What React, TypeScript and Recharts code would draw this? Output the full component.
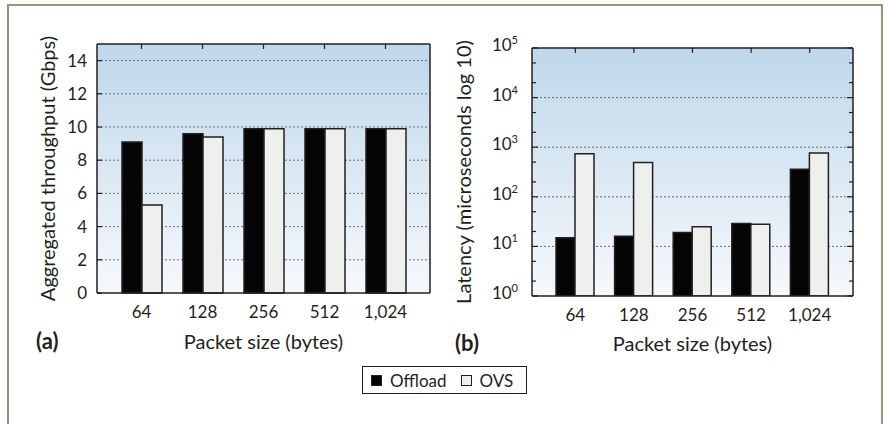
import { BarChart, Bar, XAxis, YAxis, CartesianGrid, Label } from 'recharts';

const packetSizes = ['64', '128', '256', '512', '1,024'];
const throughputOffload = [9.1, 9.6, 9.9, 9.9, 9.9];
const throughputOvs = [5.3, 9.4, 9.9, 9.9, 9.9];
const latencyOffload = [15, 16, 19, 29, 360];
const latencyOvs = [740, 490, 25, 28, 760];

const throughputTicks = [0, 2, 4, 6, 8, 10, 12, 14];
const throughputGrid = [2, 4, 6, 8, 10, 12, 14];
const latencyTicks = [1, 2, 5, 10, 20, 50, 100, 200, 500, 1000, 2000, 5000, 10000, 20000, 50000, 100000];
const latencyMajor = [1, 10, 100, 1000, 10000, 100000];
const latencyGrid = [10, 100, 1000, 10000];

const series = [
  { key: 'offload', name: 'Offload', fill: '#050505' },
  { key: 'ovs', name: 'OVS', fill: '#eef0ee' },
];

const throughputData = packetSizes.map((size, i) => ({
  size,
  offload: throughputOffload[i],
  ovs: throughputOvs[i],
}));

const latencyData = packetSizes.map((size, i) => ({
  size,
  offload: latencyOffload[i],
  ovs: latencyOvs[i],
}));

const INK = '#231f20';
const FONT = 'Lato, sans-serif';

// tick components: labels outside, tick marks drawn inward
function LinearLeftTick({ x, y, payload }: any) {
  return (
    <g>
      <line x1={x} x2={x + 5} y1={y} y2={y} stroke={INK} strokeWidth={1.2} />
      <text x={x - 10} y={y} dy={6} textAnchor="end" fontSize={17} fill={INK} fontFamily={FONT}>
        {payload.value}
      </text>
    </g>
  );
}

function RightTick({ x, y }: any) {
  return <line x1={x - 5} x2={x} y1={y} y2={y} stroke={INK} strokeWidth={1.2} />;
}

function LogRightTick({ x, y, payload }: any) {
  const len = latencyMajor.includes(payload.value) ? 6 : 4;
  return <line x1={x - len} x2={x} y1={y} y2={y} stroke={INK} strokeWidth={1.2} />;
}

function LogLeftTick({ x, y, payload }: any) {
  const major = latencyMajor.includes(payload.value);
  const exp = Math.round(Math.log10(payload.value));
  return (
    <g>
      <line x1={x} x2={x + (major ? 6 : 4)} y1={y} y2={y} stroke={INK} strokeWidth={1.2} />
      {major && (
        <text x={x - 14} y={y} dy={3} textAnchor="end" fontSize={17} fill={INK} fontFamily={FONT}>
          <tspan>10</tspan>
          <tspan dy={-7} fontSize={11}>{exp}</tspan>
        </text>
      )}
    </g>
  );
}

function TopTick({ x, y }: any) {
  return <line x1={x} x2={x} y1={y} y2={y + 5} stroke={INK} strokeWidth={1.2} />;
}

function BottomTick({ x, y, payload }: any) {
  return (
    <text x={x} y={y + 25} textAnchor="middle" fontSize={17} fill={INK} fontFamily={FONT}>
      {payload.value}
    </text>
  );
}

function XTitle({ viewBox, title, tag, tagX, dy }: any) {
  const cx = viewBox.x + viewBox.width / 2;
  return (
    <g fontFamily={FONT} fill={INK}>
      <text x={cx} y={viewBox.y + dy} textAnchor="middle" fontSize={20}>
        {title}
      </text>
      <text x={tagX} y={viewBox.y + dy} fontSize={22} fontWeight="bold">
        {tag}
      </text>
    </g>
  );
}

function YTitle({ viewBox, title, baseX }: any) {
  const cy = viewBox.y + viewBox.height / 2;
  return (
    <text
      x={baseX}
      y={cy}
      transform={`rotate(-90, ${baseX}, ${cy})`}
      textAnchor="middle"
      fontSize={20}
      fill={INK}
      fontFamily={FONT}
    >
      {title}
    </text>
  );
}

function PlotBackground({ id }: { id: string }) {
  return (
    <defs>
      <linearGradient id={id} x1="0" y1="0" x2="0" y2="1">
        <stop offset="0%" stopColor="#bed7ea" />
        <stop offset="100%" stopColor="#f6f9fc" />
      </linearGradient>
    </defs>
  );
}

function ThroughputChart() {
  return (
    <BarChart
      width={440}
      height={380}
      data={throughputData}
      margin={{ top: 43, right: 9, left: 0, bottom: 27 }}
      barGap={0}
    >
      <PlotBackground id="tpBg" />
      <CartesianGrid
        vertical={false}
        fill="url(#tpBg)"
        fillOpacity={1}
        stroke="#6f6f6f"
        strokeDasharray="2 2"
        horizontalValues={throughputGrid}
      />
      <XAxis
        dataKey="size"
        height={60}
        padding={{ left: 14, right: 14 }}
        tickLine={false}
        tickSize={0}
        tickMargin={0}
        tick={<BottomTick />}
        interval={0}
        axisLine={{ stroke: INK, strokeWidth: 1.5 }}
      >
        <Label content={(p: any) => <XTitle {...p} title="Packet size (bytes)" tag="(a)" tagX={36} dy={56} />} />
      </XAxis>
      <XAxis
        xAxisId="top"
        dataKey="size"
        orientation="top"
        height={1}
        padding={{ left: 14, right: 14 }}
        tickLine={false}
        tickSize={0}
        tickMargin={0}
        tick={<TopTick />}
        interval={0}
        axisLine={{ stroke: INK, strokeWidth: 1.5 }}
      />
      <YAxis
        width={97}
        type="number"
        domain={[0, 15]}
        ticks={throughputTicks}
        interval={0}
        tickLine={false}
        tickSize={0}
        tickMargin={0}
        tick={<LinearLeftTick />}
        axisLine={{ stroke: INK, strokeWidth: 1.5 }}
      >
        <Label content={(p: any) => <YTitle {...p} title="Aggregated throughput (Gbps)" baseX={55} />} />
      </YAxis>
      <YAxis
        yAxisId="right"
        orientation="right"
        width={1}
        type="number"
        domain={[0, 15]}
        ticks={throughputGrid}
        interval={0}
        tickLine={false}
        tickSize={0}
        tickMargin={0}
        tick={<RightTick />}
        axisLine={{ stroke: INK, strokeWidth: 1.5 }}
      />
      {series.map((s) => (
        <Bar
          key={s.key}
          dataKey={s.key}
          name={s.name}
          fill={s.fill}
          stroke={INK}
          strokeWidth={1.5}
          barSize={20}
          isAnimationActive={false}
        />
      ))}
    </BarChart>
  );
}

function LatencyChart() {
  return (
    <BarChart
      width={440}
      height={380}
      data={latencyData}
      margin={{ top: 47, right: 30, left: 0, bottom: 24 }}
      barGap={0}
    >
      <PlotBackground id="latBg" />
      <CartesianGrid
        vertical={false}
        fill="url(#latBg)"
        fillOpacity={1}
        stroke="#6f6f6f"
        strokeDasharray="2 2"
        horizontalValues={latencyGrid}
      />
      <XAxis
        dataKey="size"
        height={60}
        padding={{ left: 14, right: 14 }}
        tickLine={false}
        tickSize={0}
        tickMargin={0}
        tick={<BottomTick />}
        interval={0}
        axisLine={{ stroke: INK, strokeWidth: 1.5 }}
      >
        <Label content={(p: any) => <XTitle {...p} title="Packet size (bytes)" tag="(b)" tagX={11} dy={55} />} />
      </XAxis>
      <XAxis
        xAxisId="top"
        dataKey="size"
        orientation="top"
        height={1}
        padding={{ left: 14, right: 14 }}
        tickLine={false}
        tickSize={0}
        tickMargin={0}
        tick={<TopTick />}
        interval={0}
        axisLine={{ stroke: INK, strokeWidth: 1.5 }}
      />
      <YAxis
        width={88}
        type="number"
        scale="log"
        domain={[1, 100000]}
        allowDataOverflow
        ticks={latencyTicks}
        interval={0}
        tickLine={false}
        tickSize={0}
        tickMargin={0}
        tick={<LogLeftTick />}
        axisLine={{ stroke: INK, strokeWidth: 1.5 }}
      >
        <Label content={(p: any) => <YTitle {...p} title="Latency (microseconds log 10)" baseX={27} />} />
      </YAxis>
      <YAxis
        yAxisId="right"
        orientation="right"
        width={1}
        type="number"
        scale="log"
        domain={[1, 100000]}
        allowDataOverflow
        ticks={latencyTicks}
        interval={0}
        tickLine={false}
        tickSize={0}
        tickMargin={0}
        tick={<LogRightTick />}
        axisLine={{ stroke: INK, strokeWidth: 1.5 }}
      />
      {series.map((s) => (
        <Bar
          key={s.key}
          dataKey={s.key}
          name={s.name}
          fill={s.fill}
          stroke={INK}
          strokeWidth={1.5}
          barSize={19}
          isAnimationActive={false}
        />
      ))}
    </BarChart>
  );
}

export default function App() {
  return (
    <div
      style={{
        position: 'absolute',
        left: 0,
        top: 0,
        width: 888,
        height: 424,
        background: '#fff',
        overflow: 'hidden',
        fontFamily: FONT,
        color: INK,
      }}
    >
      <div
        style={{
          position: 'absolute',
          left: 7,
          top: 4,
          width: 876,
          height: 500,
          boxSizing: 'border-box',
          border: '2px solid #8a9b76',
        }}
      />
      <div style={{ position: 'absolute', left: 0, top: 0 }}>
        <ThroughputChart />
      </div>
      <div style={{ position: 'absolute', left: 444, top: 0 }}>
        <LatencyChart />
      </div>
      <div
        style={{
          position: 'absolute',
          left: 362,
          top: 366,
          width: 165,
          height: 28,
          boxSizing: 'border-box',
          border: `1px solid ${INK}`,
          background: '#fff',
          display: 'flex',
          alignItems: 'center',
          paddingLeft: 8,
          fontSize: 17,
        }}
      >
        {series.map((s) => (
          <span key={s.key} style={{ display: 'flex', alignItems: 'center', marginRight: 14 }}>
            <span
              style={{
                display: 'inline-block',
                width: 11,
                height: 11,
                boxSizing: 'border-box',
                background: s.fill,
                border: `1px solid ${INK}`,
                marginRight: 8,
              }}
            />
            {s.name}
          </span>
        ))}
      </div>
    </div>
  );
}
